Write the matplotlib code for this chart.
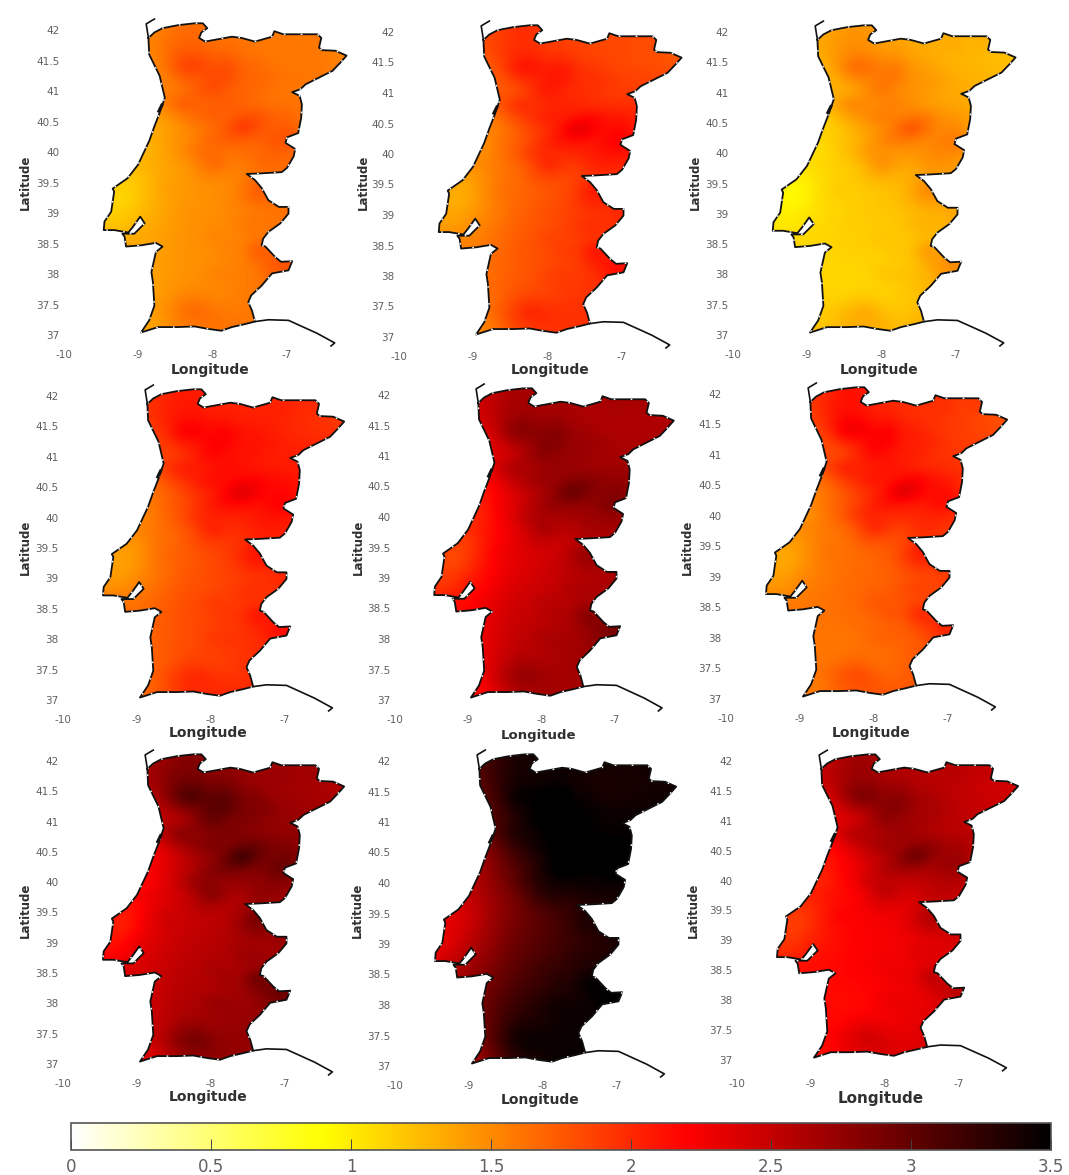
"""Nine maps of Portugal sharing one white-yellow-red-black colour scale."""
import matplotlib

matplotlib.use("Agg")
import matplotlib.pyplot as plt
import numpy as np
from matplotlib.colors import LinearSegmentedColormap
from matplotlib.patches import PathPatch
from matplotlib.path import Path

plt.rcParams["axes.unicode_minus"] = False

W, H = 1069, 1175
GREY = "#606060"
DARK = "#303030"

# Border, clockwise from the Minho mouth
border_lon = [-8.86, -8.78, -8.67, -8.46, -8.24, -8.13, -8.07, -8.15, -8.18, -8.10, -7.92, -7.74, -7.61, -7.43,
              -7.20, -7.17, -7.05, -6.84, -6.59, -6.54, -6.57, -6.53, -6.35, -6.20, -6.28, -6.39, -6.57, -6.75,
              -6.82, -6.93, -6.83, -6.80, -6.81, -6.85, -7.00, -7.02, -6.89, -6.91, -7.00, -7.07, -7.34, -7.54,
              -7.43, -7.34, -7.25, -7.11, -6.98, -6.98, -7.09, -7.25, -7.32, -7.34, -7.29, -7.16, -7.08, -6.93,
              -6.98, -7.20, -7.34, -7.48, -7.52, -7.47, -7.43, -7.56, -7.74, -7.88, -8.06, -8.24, -8.46, -8.73,
              -8.96, -8.85, -8.78, -8.80, -8.82, -8.76, -8.67, -8.76, -8.96, -9.16, -9.18, -9.21, -9.05, -8.91,
              -8.97, -9.07, -9.13, -9.32, -9.46, -9.45, -9.36, -9.32, -9.34, -9.14, -9.00, -8.85, -8.78, -8.71,
              -8.64, -8.71, -8.85, -8.86]
border_lat = [41.87, 41.96, 42.03, 42.08, 42.11, 42.11, 42.03, 41.96, 41.87, 41.81, 41.85, 41.89, 41.87, 41.81,
              41.89, 41.98, 41.93, 41.93, 41.93, 41.87, 41.71, 41.67, 41.66, 41.58, 41.47, 41.33, 41.22, 41.11,
              41.03, 40.98, 40.92, 40.78, 40.56, 40.31, 40.24, 40.15, 40.05, 39.93, 39.74, 39.67, 39.65, 39.64,
              39.54, 39.41, 39.21, 39.10, 39.10, 38.99, 38.83, 38.69, 38.58, 38.47, 38.45, 38.28, 38.20, 38.21,
              38.06, 38.01, 37.81, 37.65, 37.54, 37.40, 37.22, 37.18, 37.13, 37.07, 37.10, 37.14, 37.13, 37.13,
              37.04, 37.24, 37.48, 37.87, 38.03, 38.36, 38.45, 38.51, 38.47, 38.45, 38.61, 38.66, 38.66, 38.83,
              38.94, 38.77, 38.68, 38.72, 38.72, 38.86, 39.02, 39.35, 39.40, 39.57, 39.79, 40.18, 40.42, 40.64,
              40.89, 41.25, 41.60, 41.87]
north_lon = [-8.86, -8.89, -8.78]
north_lat = [41.87, 42.10, 42.18]
south_lon = [-7.43, -7.25, -6.98, -6.60, -6.36, -6.41]
south_lat = [37.22, 37.25, 37.24, 37.03, 36.87, 36.82]
aveiro_lon = [-8.72, -8.68]
aveiro_lat = [40.67, 40.77]

# Coarse level of each field
grid_lon = [-9.6, -9.0, -8.4, -7.8, -7.2, -6.6, -6.1]
grid_lat = [42.2, 41.5, 41.0, 40.5, 40.0, 39.5, 39.0, 38.5, 38.0, 37.5, 36.9]

field_a = [[1.45, 1.50, 1.60, 1.60, 1.55, 1.50, 1.50], [1.45, 1.50, 1.65, 1.65, 1.60, 1.60, 1.50],
           [1.40, 1.45, 1.70, 1.65, 1.60, 1.60, 1.55], [1.35, 1.35, 1.50, 1.60, 1.65, 1.60, 1.55],
           [1.25, 1.30, 1.45, 1.55, 1.65, 1.65, 1.55], [1.20, 1.25, 1.40, 1.50, 1.60, 1.65, 1.60],
           [1.15, 1.25, 1.45, 1.50, 1.60, 1.60, 1.60], [1.35, 1.35, 1.45, 1.50, 1.60, 1.65, 1.65],
           [1.40, 1.35, 1.45, 1.50, 1.65, 1.80, 1.80], [1.35, 1.35, 1.50, 1.55, 1.60, 1.60, 1.60],
           [1.30, 1.35, 1.55, 1.65, 1.60, 1.60, 1.60]]
field_b = [[1.80, 1.85, 1.95, 1.85, 1.80, 1.75, 1.70], [1.70, 1.75, 1.85, 1.90, 1.85, 1.80, 1.75],
           [1.55, 1.65, 1.90, 1.90, 1.90, 1.90, 1.85], [1.50, 1.50, 1.75, 1.95, 2.05, 2.05, 2.00],
           [1.45, 1.50, 1.70, 1.90, 2.05, 2.05, 2.00], [1.40, 1.45, 1.65, 1.80, 1.90, 2.00, 1.95],
           [1.40, 1.45, 1.70, 1.85, 1.95, 2.00, 1.95], [1.55, 1.55, 1.75, 1.85, 1.95, 2.00, 2.00],
           [1.65, 1.60, 1.75, 1.85, 2.00, 2.15, 2.15], [1.55, 1.55, 1.80, 1.95, 1.95, 1.95, 1.95],
           [1.40, 1.45, 1.85, 1.95, 1.95, 1.95, 1.95]]
field_c = [[1.30, 1.35, 1.40, 1.35, 1.30, 1.25, 1.25], [1.25, 1.30, 1.40, 1.40, 1.30, 1.25, 1.20],
           [1.15, 1.20, 1.45, 1.40, 1.35, 1.30, 1.30], [1.10, 1.15, 1.30, 1.45, 1.40, 1.35, 1.30],
           [1.05, 1.10, 1.20, 1.35, 1.45, 1.40, 1.35], [1.00, 1.05, 1.15, 1.25, 1.35, 1.40, 1.35],
           [1.05, 1.05, 1.15, 1.20, 1.30, 1.35, 1.35], [1.15, 1.10, 1.15, 1.15, 1.25, 1.40, 1.40],
           [1.20, 1.10, 1.10, 1.15, 1.35, 1.50, 1.50], [1.20, 1.15, 1.10, 1.15, 1.30, 1.35, 1.35],
           [1.20, 1.25, 1.40, 1.30, 1.35, 1.35, 1.35]]
field_d = [[1.90, 1.95, 2.05, 2.00, 2.00, 1.95, 1.90], [1.80, 1.90, 2.00, 2.05, 2.05, 1.95, 1.90],
           [1.70, 1.80, 2.00, 2.05, 2.05, 2.05, 2.05], [1.60, 1.60, 1.85, 2.05, 2.10, 2.10, 2.05],
           [1.50, 1.55, 1.75, 1.95, 2.05, 2.05, 2.00], [1.45, 1.50, 1.70, 1.90, 2.00, 2.05, 2.00],
           [1.45, 1.50, 1.75, 1.85, 1.95, 2.05, 2.00], [1.65, 1.65, 1.80, 1.90, 1.95, 2.05, 2.05],
           [1.70, 1.65, 1.80, 1.90, 2.00, 2.20, 2.20], [1.65, 1.65, 1.80, 1.90, 2.00, 2.00, 2.00],
           [1.60, 1.65, 2.00, 2.05, 2.00, 2.00, 2.00]]
field_e = [[2.40, 2.45, 2.60, 2.65, 2.65, 2.60, 2.60], [2.25, 2.35, 2.55, 2.65, 2.60, 2.60, 2.60],
           [2.15, 2.20, 2.55, 2.65, 2.65, 2.65, 2.65], [2.05, 2.05, 2.40, 2.60, 2.70, 2.75, 2.70],
           [2.00, 2.00, 2.30, 2.55, 2.65, 2.70, 2.65], [1.90, 1.95, 2.30, 2.45, 2.55, 2.65, 2.60],
           [1.90, 2.05, 2.35, 2.50, 2.60, 2.65, 2.60], [2.10, 2.20, 2.45, 2.55, 2.65, 2.70, 2.70],
           [2.20, 2.20, 2.50, 2.60, 2.75, 2.85, 2.85], [2.15, 2.20, 2.55, 2.65, 2.70, 2.70, 2.70],
           [2.00, 2.05, 2.55, 2.65, 2.65, 2.65, 2.65]]
field_f = [[1.85, 1.90, 2.10, 2.00, 1.95, 1.85, 1.85], [1.75, 1.85, 2.00, 2.00, 1.95, 1.85, 1.75],
           [1.65, 1.75, 1.95, 2.00, 1.95, 1.90, 1.85], [1.55, 1.55, 1.80, 1.95, 2.05, 1.95, 1.90],
           [1.50, 1.50, 1.70, 1.90, 1.95, 1.90, 1.85], [1.45, 1.50, 1.60, 1.75, 1.90, 1.90, 1.85],
           [1.45, 1.50, 1.65, 1.70, 1.85, 1.85, 1.85], [1.60, 1.60, 1.65, 1.75, 1.85, 1.85, 1.85],
           [1.65, 1.60, 1.60, 1.65, 1.80, 2.05, 2.05], [1.60, 1.60, 1.60, 1.65, 1.80, 1.80, 1.80],
           [1.55, 1.55, 1.75, 1.80, 1.80, 1.80, 1.80]]
field_g = [[2.60, 2.65, 2.75, 2.75, 2.65, 2.60, 2.55], [2.50, 2.60, 2.75, 2.80, 2.70, 2.65, 2.55],
           [2.40, 2.50, 2.70, 2.75, 2.75, 2.70, 2.70], [2.25, 2.25, 2.50, 2.65, 2.75, 2.80, 2.75],
           [2.20, 2.20, 2.45, 2.60, 2.70, 2.75, 2.70], [2.15, 2.25, 2.45, 2.55, 2.65, 2.70, 2.65],
           [2.15, 2.30, 2.50, 2.60, 2.65, 2.70, 2.65], [2.35, 2.40, 2.55, 2.60, 2.70, 2.70, 2.70],
           [2.45, 2.40, 2.60, 2.65, 2.75, 2.85, 2.85], [2.35, 2.40, 2.65, 2.75, 2.75, 2.75, 2.75],
           [2.20, 2.30, 2.65, 2.75, 2.75, 2.75, 2.75]]
field_h = [[2.95, 3.05, 3.35, 3.40, 3.40, 3.35, 3.35], [2.80, 2.95, 3.30, 3.45, 3.35, 3.40, 3.40],
           [2.70, 2.80, 3.35, 3.50, 3.45, 3.45, 3.45], [2.55, 2.60, 3.15, 3.45, 3.50, 3.50, 3.50],
           [2.50, 2.55, 2.95, 3.40, 3.40, 3.45, 3.45], [2.35, 2.45, 2.85, 3.15, 3.30, 3.45, 3.45],
           [2.20, 2.55, 2.95, 3.15, 3.30, 3.45, 3.45], [2.45, 2.70, 3.05, 3.25, 3.40, 3.45, 3.45],
           [2.70, 2.80, 3.20, 3.40, 3.45, 3.50, 3.50], [2.60, 2.75, 3.35, 3.45, 3.45, 3.45, 3.45],
           [2.30, 2.50, 3.20, 3.45, 3.45, 3.45, 3.45]]
field_i = [[2.45, 2.50, 2.65, 2.60, 2.55, 2.45, 2.45], [2.30, 2.40, 2.60, 2.60, 2.55, 2.45, 2.40],
           [2.20, 2.25, 2.50, 2.60, 2.55, 2.50, 2.50], [2.10, 2.10, 2.35, 2.55, 2.60, 2.55, 2.50],
           [2.05, 2.05, 2.20, 2.40, 2.50, 2.50, 2.45], [2.00, 2.05, 2.20, 2.30, 2.45, 2.50, 2.45],
           [1.95, 2.05, 2.20, 2.25, 2.35, 2.45, 2.45], [2.15, 2.15, 2.20, 2.25, 2.35, 2.40, 2.40],
           [2.20, 2.15, 2.15, 2.25, 2.35, 2.55, 2.55], [2.20, 2.15, 2.20, 2.30, 2.40, 2.40, 2.40],
           [2.10, 2.15, 2.35, 2.40, 2.40, 2.40, 2.40]]
fields = [field_a, field_b, field_c, field_d, field_e, field_f, field_g, field_h, field_i]

# Local pattern seen in all panels, in tenths, and how strongly each panel shows it
detail_lon = [-9.6, -9.4, -9.2, -9.0, -8.8, -8.6, -8.4, -8.2, -8.0, -7.8, -7.6, -7.4, -7.2, -7.0, -6.8, -6.6, -6.4, -6.2]
detail_lat = [42.2, 42.0, 41.8, 41.6, 41.4, 41.2, 41.0, 40.8, 40.6, 40.4, 40.2, 40.0, 39.8, 39.6, 39.4, 39.2, 39.0,
              38.8, 38.6, 38.4, 38.2, 38.0, 37.8, 37.6, 37.4, 37.2, 37.0]
detail = [[0, 0, 0, 0, 0, 0, 0, 0, 0, 0, 0, 0, 0, 0, 0, 0, 0, 0],
          [0, 0, 0, 0, 0, 0, 1, 1, 0, 0, 0, 0, 0, 0, 0, 1, 0, 0],
          [0, 0, 0, 0, 0, 1, 1, 1, 0, 0, 0, 0, 0, 1, 0, 1, 0, 0],
          [0, 0, 0, 0, 0, 1, 2, 2, 1, 1, 0, 0, 0, 0, 0, 0, 0, 0],
          [0, 0, 0, 0, -1, 1, 4, 4, 2, 3, 1, 1, 0, 0, 0, 0, 0, 0],
          [0, 0, 0, 0, 0, -1, 1, 1, 3, 3, 1, 1, 1, 0, 0, 0, 0, 0],
          [0, 0, 0, 0, 0, -1, -2, 1, 3, 1, 1, 1, 0, 0, 0, 0, 0, 0],
          [0, 0, 0, 0, 0, 1, 3, 1, 1, 2, 1, 0, 0, 0, 0, 0, 0, 0],
          [0, 0, 0, 0, -1, 0, 1, 2, 3, 1, 2, 3, 1, 1, 0, 0, 0, 0],
          [0, 0, 0, 0, -1, -1, 0, 1, 1, 3, 7, 3, 1, 2, 0, 0, 0, 0],
          [0, 0, 0, 0, -1, 0, 0, 1, 3, 3, 2, 1, 2, 3, 1, 0, 0, 0],
          [0, 0, 0, -1, -1, 0, 1, 3, 2, 1, 1, 1, 1, 1, 0, 0, 0, 0],
          [0, 0, 0, 0, 0, 0, 0, 1, 4, 1, 0, 1, 1, 0, 0, 0, 0, 0],
          [0, 0, -1, -1, 0, 0, 0, 1, 1, 0, 0, 1, 0, 0, 0, 0, 0, 0],
          [0, -1, -2, -1, 0, 1, 0, 0, 0, 0, 1, 4, 1, 0, 0, 0, 0, 0],
          [0, -1, -2, -1, 0, 0, 0, 0, 0, 0, 1, 2, 1, 0, 0, 0, 0, 0],
          [0, -1, -1, 0, 0, 0, 0, 0, 0, 0, 0, 0, 0, 1, 0, 0, 0, 0],
          [-1, -1, -1, 0, 0, 0, 0, 0, 0, 0, 1, 1, 0, 0, 0, 0, 0, 0],
          [0, 0, 0, 0, 0, 0, 0, 0, 1, 0, 0, 0, 0, 0, 0, 0, 0, 0],
          [0, 0, 0, 0, 0, 0, 0, 0, 0, 1, 0, 4, 1, 0, 0, 0, 0, 0],
          [0, 0, 0, 0, 0, 0, 0, 0, 0, 0, 0, 1, 2, 3, 0, 0, 0, 0],
          [0, 0, 0, 0, 0, 0, 0, 0, 1, 1, 0, 0, 1, 1, 0, 0, 0, 0],
          [0, 0, 0, 0, 0, 0, 0, 0, 0, 0, 0, 0, 0, 0, 0, 0, 0, 0],
          [0, 0, 0, 0, 0, 0, 1, 1, 0, 0, 0, 0, 0, 0, 0, 0, 0, 0],
          [0, 0, 0, 0, 0, 1, 2, 3, 1, 0, 0, 0, 0, 0, 0, 0, 0, 0],
          [0, 0, 0, 0, -1, 0, 1, 1, 1, 0, 0, 0, 0, 0, 0, 0, 0, 0],
          [0, 0, 0, 0, 0, 0, 0, 0, 0, 0, 0, 0, 0, 0, 0, 0, 0, 0]]
detail_weight = [0.6, 0.7, 0.7, 0.6, 0.7, 0.8, 1.0, 0.4, 0.8]

lon_ticks = [-10, -9, -8, -7]
lat_ticks = [42, 41.5, 41, 40.5, 40, 39.5, 39, 38.5, 38, 37.5, 37]
lat_labels = ["42", "41.5", "41", "40.5", "40", "39.5", "39", "38.5", "38", "37.5", "37"]
bar_ticks = [0, 0.5, 1, 1.5, 2, 2.5, 3, 3.5]
bar_labels = ["0", "0.5", "1", "1.5", "2", "2.5", "3", "3.5"]

# Pixel calibration per panel: x of lon -9, x of lon -7, y of lat 42, y of lat 37
panel_cal = [(138, 287, 30, 335), (473, 622, 32, 337), (807, 956, 32, 335),
             (137, 285, 396, 700), (468, 615, 395, 700), (800, 948, 394, 699),
             (137, 285, 761, 1064), (469, 617, 761, 1066), (811, 959, 761, 1060)]
# Axis title positions per panel: latitude x, longitude x, longitude y, latitude y
title_pos = [(25, 210, 370, 182), (363, 550, 370, 182), (695, 879, 370, 182),
             (25, 208, 733, 547), (358, 539, 735, 547), (687, 871, 733, 547),
             (25, 208, 1097, 910), (357, 540, 1100, 910), (693, 881, 1098, 910)]
lon_title_size = [10, 10, 10, 10, 9.5, 10, 10, 10, 11]
lon_tick_pad = [2, 2, 2, 2, 2, 2, 2, 2, 5]

hot = LinearSegmentedColormap.from_list(
    "white_hot", [(0, "#ffffff"), (0.9 / 3.5, "#ffff00"), (2.2 / 3.5, "#ff0000"), (1, "#000000")], N=512)


def resample(values):
    """Bilinear resample of a coarse field onto the detail grid."""
    values = np.array(values)
    lat_up = np.array(grid_lat[::-1])
    by_lat = np.array([np.interp(detail_lat, lat_up, values[::-1, j]) for j in range(values.shape[1])]).T
    return np.array([np.interp(detail_lon, grid_lon, row) for row in by_lat])


def main():
    fig = plt.figure(figsize=(W / 100, H / 100), dpi=100)
    vertices = np.column_stack([border_lon, border_lat])
    extra = np.array(detail) / 10
    half_lon, half_lat = 0.1, 0.1
    extent = [detail_lon[0] - half_lon, detail_lon[-1] + half_lon, detail_lat[-1] - half_lat, detail_lat[0] + half_lat]

    for i, (values, weight) in enumerate(zip(fields, detail_weight)):
        x9, x7, y42, y37 = panel_cal[i]
        lat_x, lon_x, lon_y, lat_y = title_pos[i]
        px_lon = (x7 - x9) / 2
        px_lat = (y37 - y42) / 5
        xmin, xmax, ymin, ymax = -10, -6, 36.8, 42.3
        left = x9 - px_lon
        top = y42 - (ymax - 42) * px_lat
        ax = fig.add_axes([left / W, 1 - (top + (ymax - ymin) * px_lat) / H,
                           (xmax - xmin) * px_lon / W, (ymax - ymin) * px_lat / H])
        im = ax.imshow(resample(values) + weight * extra, cmap=hot, vmin=0, vmax=3.5, extent=extent,
                       aspect="auto", interpolation="bicubic", origin="upper")
        im.set_clip_path(PathPatch(Path(vertices), transform=ax.transData))
        ax.plot(border_lon, border_lat, color="#111111", lw=1.3)
        ax.plot(border_lon, border_lat, color="white", lw=1.0, dashes=(1.2, 11))
        ax.plot(north_lon, north_lat, color="#111111", lw=1.2)
        ax.plot(south_lon, south_lat, color="#111111", lw=1.2)
        ax.plot(aveiro_lon, aveiro_lat, color="#111111", lw=2.2)
        ax.set_xlim(xmin, xmax)
        ax.set_ylim(ymin, ymax)
        ax.set_xticks(lon_ticks)
        ax.set_yticks(lat_ticks)
        ax.set_yticklabels(lat_labels)
        ax.tick_params(axis="x", length=0, labelsize=7.5, labelcolor=GREY, pad=lon_tick_pad[i])
        ax.tick_params(axis="y", length=0, labelsize=7.5, labelcolor=GREY, pad=3)
        for s in ax.spines.values():
            s.set_visible(False)
        ax.patch.set_alpha(0)
        fig.text(lon_x / W, 1 - lon_y / H, "Longitude", ha="center", va="center",
                 fontsize=lon_title_size[i], fontweight="bold", color=DARK)
        fig.text(lat_x / W, 1 - lat_y / H, "Latitude", ha="center", va="center", rotation=90,
                 fontsize=8.5, fontweight="bold", color=DARK)

    # Colour bar
    cax = fig.add_axes([71 / W, 1 - 1150 / H, 980 / W, 27 / H])
    cb = fig.colorbar(plt.cm.ScalarMappable(plt.Normalize(0, 3.5), hot), cax=cax, orientation="horizontal")
    cb.set_ticks(bar_ticks)
    cb.set_ticklabels(bar_labels)
    cax.tick_params(direction="in", length=8, width=0.7, color="#444444", labelsize=12,
                    labelcolor=GREY, pad=6)
    cb.outline.set_edgecolor("#555555")
    cb.outline.set_linewidth(1.2)

    fig.savefig("out.png", dpi=100)
    plt.close(fig)


if __name__ == "__main__":
    main()
